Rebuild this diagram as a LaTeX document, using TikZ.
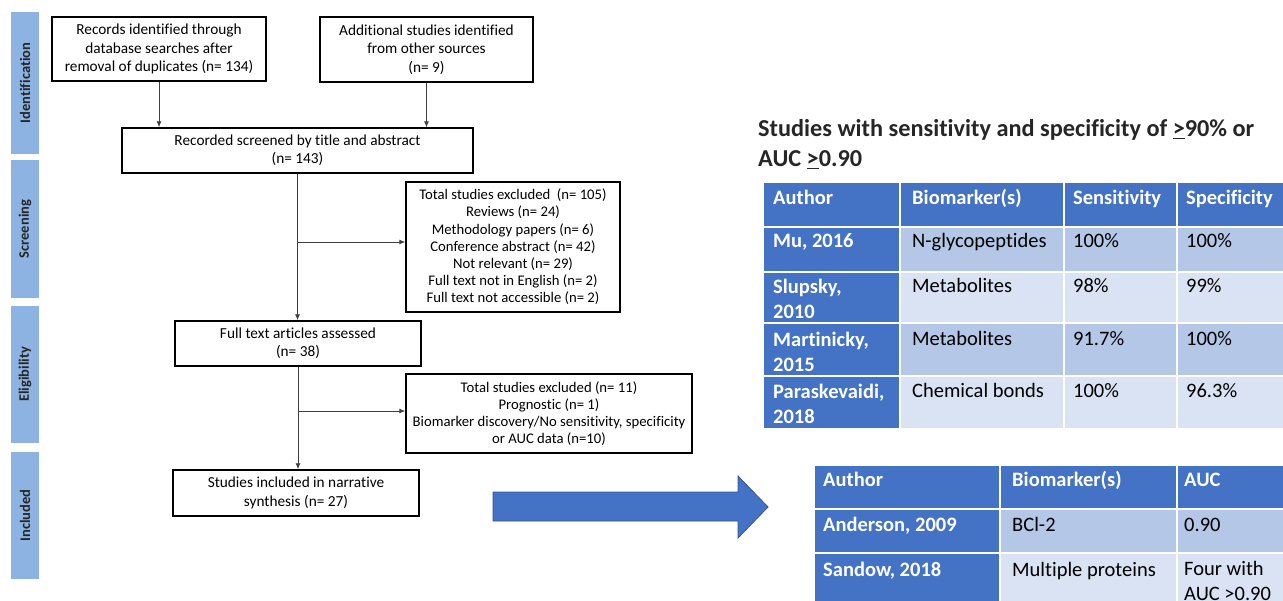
\documentclass[tikz,border=0pt]{standalone}
\usepackage{fontspec}
\setmainfont{Carlito}[Ligatures=NoCommon]
\usetikzlibrary{arrows.meta}
\definecolor{hdr}{HTML}{4472C4}
\definecolor{bandA}{HTML}{B4C7E7}
\definecolor{bandB}{HTML}{DAE3F3}
\definecolor{sidebar}{HTML}{8DB3E2}
\definecolor{ttl}{HTML}{262626}
\begin{document}
\begin{tikzpicture}[x=1pt,y=-1pt,
  fbox/.style={draw=black, line width=1.4pt, fill=white, align=center, inner sep=2pt, font=\fontsize{15.3}{18.5}\selectfont},
  exbox/.style={fbox, font=\fontsize{14.7}{17.2}\selectfont},
  conn/.style={draw=black!75, line width=0.9pt, -{Latex[length=6pt,width=5pt]}},
  sidelab/.style={fill=sidebar, rotate=90, minimum height=28, inner sep=0, text=black!85, font=\bfseries\fontsize{14.5}{16}\selectfont},
  tw/.style={inner sep=0, text=white, font=\bfseries\fontsize{20.5}{25}\selectfont, align=left},
  tb/.style={inner sep=0, text=black, font=\fontsize{20.5}{25}\selectfont, align=left},
  grid/.style={draw=white, line width=1.5pt}
]
\useasboundingbox (0,0) rectangle (1283,601);
\fill[white] (0,0) rectangle (1283,601);

% side bars
\node[sidelab, minimum width=142] (s1) at (25,83) {Identification};
\node[sidelab, minimum width=138] (s2) at (25,229) {Screening};
\node[sidelab, minimum width=137] (s3) at (25,374.5) {Eligibility};
\node[sidelab, minimum width=127] (s4) at (25,515.5) {Included};

% flow boxes
\node[fbox, minimum width=214, minimum height=64] (b1) at (159,49) {Records identified through\\database searches after\\removal of duplicates (n= 134)};
\node[fbox, minimum width=213, minimum height=65] (b2) at (426.5,49.5) {Additional studies identified\\from other sources\\(n= 9)};
\node[fbox, minimum width=351, minimum height=45] (b3) at (297.5,150.5) {Recorded screened by title and abstract\\(n= 143)};
\node[exbox, minimum width=214, minimum height=130] (e1) at (513,247) {Total studies excluded~~(n= 105)\\Reviews (n= 24)\\Methodology papers (n= 6)\\Conference abstract (n= 42)\\Not relevant (n= 29)\\Full text not in English (n= 2)\\Full text not accessible (n= 2)};
\node[fbox, minimum width=246, minimum height=45] (b4) at (298,343.5) {Full text articles assessed\\(n= 38)};
\node[exbox, minimum width=286, minimum height=79] (e2) at (549,413.5) {Total studies excluded (n= 11)\\Prognostic (n= 1)\\Biomarker discovery/No sensitivity, specificity\\or AUC data (n=10)};
\node[fbox, minimum width=246, minimum height=46] (b5) at (296,493) {Studies included in narrative\\synthesis (n= 27)};

% connectors
\draw[conn] (b1.south) -- (b1.south |- b3.north);
\draw[conn] (b2.south) -- (b2.south |- b3.north);
\draw[conn] (b3.south) -- (b3.south |- b4.north);
\coordinate (j1) at (297.5,242);
\draw[conn] (j1) -- (j1 -| e1.west);
\draw[conn] (b4.south) -- (b4.south |- b5.north);
\coordinate (j2) at (298,411);
\draw[conn] (j2) -- (j2 -| e2.west);

% big arrow
\fill[hdr, draw=hdr!75!black, line width=0.8pt] (493,492) -- (738,492) -- (738,476) -- (768,507) -- (738,538) -- (738,521) -- (493,521) -- cycle;

% title
\node[inner sep=0, anchor=base west, text=ttl, font=\bfseries\fontsize{24.3}{29}\selectfont] (title1) at (758,137) {Studies with sensitivity and specificity of \underline{>}90\% or};
\node[inner sep=0, anchor=base west, text=ttl, font=\bfseries\fontsize{24.3}{29}\selectfont] (title2) at (758,167) {AUC \underline{>}0.90};

% table 1
\fill[hdr] (764,183) rectangle (1283,227);
\fill[hdr] (764,227) rectangle (900,428);
\fill[bandA] (900,227) rectangle (1283,272);
\fill[bandB] (900,272) rectangle (1283,323);
\fill[bandA] (900,323) rectangle (1283,376);
\fill[bandB] (900,376) rectangle (1283,428);
\foreach \xx in {900,1064,1177} \draw[grid] (\xx,183) -- (\xx,428);
\foreach \yy in {227,272,323,376} \draw[grid] (764,\yy) -- (1283,\yy);

\node[tw, anchor=base west] (h1a) at (773,205) {Author};
\node[tw, anchor=base west] (h1b) at (912,205) {Biomarker(s)};
\node[tw, anchor=base west] (h1c) at (1073,205) {Sensitivity};
\node[tw, anchor=base west] (h1d) at (1186,205) {Specificity};

\node[tw, anchor=base west] (r1a) at (773,248) {Mu, 2016};
\node[tb, anchor=base west] (r1b) at (912,248) {N-glycopeptides};
\node[tb, anchor=base west] (r1c) at (1073,248) {100\%};
\node[tb, anchor=base west] (r1d) at (1186,248) {100\%};

\node[tw, anchor=north west] (r2a) at (773,278.5) {Slupsky,\\2010};
\node[tb, anchor=base west] (r2b) at (912,293) {Metabolites};
\node[tb, anchor=base west] (r2c) at (1073,293) {98\%};
\node[tb, anchor=base west] (r2d) at (1186,293) {99\%};

\node[tw, anchor=north west] (r3a) at (773,331.5) {Martinicky,\\2015};
\node[tb, anchor=base west] (r3b) at (912,346) {Metabolites};
\node[tb, anchor=base west] (r3c) at (1073,346) {91.7\%};
\node[tb, anchor=base west] (r3d) at (1186,346) {100\%};

\node[tw, anchor=north west] (r4a) at (773,383.5) {Paraskevaidi,\\2018};
\node[tb, anchor=base west] (r4b) at (912,398) {Chemical bonds};
\node[tb, anchor=base west] (r4c) at (1073,398) {100\%};
\node[tb, anchor=base west] (r4d) at (1186,398) {96.3\%};

% table 2
\fill[hdr] (815,466) rectangle (1283,509);
\fill[hdr] (815,509) rectangle (1000,601);
\fill[bandA] (1000,509) rectangle (1283,553);
\fill[bandB] (1000,553) rectangle (1283,601);
\foreach \xx in {1000,1177} \draw[grid] (\xx,466) -- (\xx,601);
\foreach \yy in {509,553} \draw[grid] (815,\yy) -- (1283,\yy);

\node[tw, anchor=base west] (h2a) at (823,486) {Author};
\node[tw, anchor=base west] (h2b) at (1012,486) {Biomarker(s)};
\node[tw, anchor=base west] (h2c) at (1184,486) {AUC};

\node[tw, anchor=base west] (q1a) at (823,531) {Anderson, 2009};
\node[tb, anchor=base west] (q1b) at (1012,531) {BCl-2};
\node[tb, anchor=base west] (q1c) at (1184,531) {0.90};

\node[tw, anchor=base west] (q2a) at (823,576) {Sandow, 2018};
\node[tb, anchor=base west] (q2b) at (1012,576) {Multiple proteins};
\node[tb, anchor=north west] (q2c) at (1184,561.5) {Four with\\AUC >0.90};
\end{tikzpicture}
\end{document}
